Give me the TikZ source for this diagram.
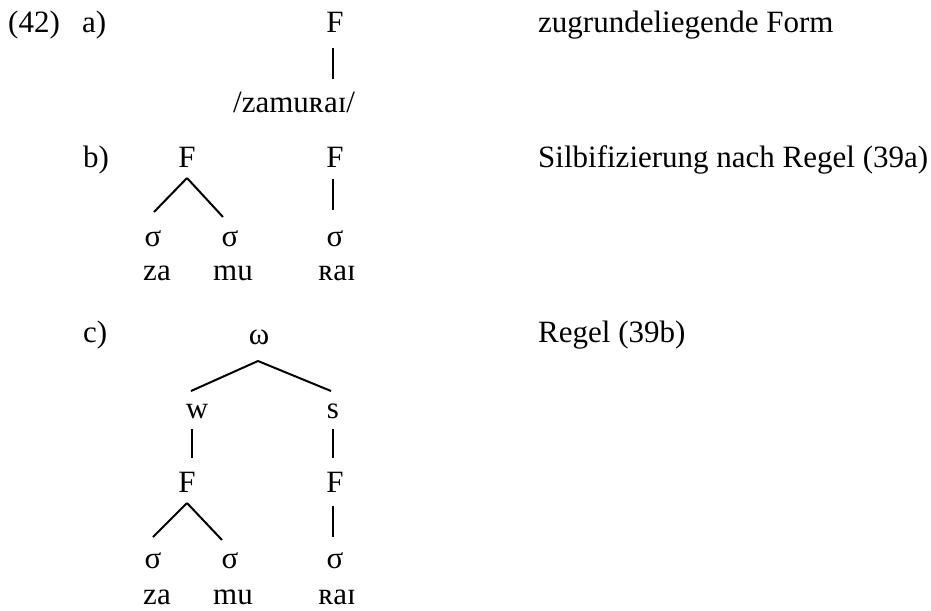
\documentclass[tikz,border=0pt]{standalone}
\usepackage{fontspec}
\setmainfont{Liberation Serif}
\begin{document}
\begin{tikzpicture}[x=1pt,y=-1pt,
  txt/.style={anchor=base,inner sep=0pt,font=\fontsize{31}{37}\selectfont},
  txtl/.style={txt,anchor=base west},
  branch/.style={line width=2pt}]
\useasboundingbox (0,0) rectangle (931,610);

% labels and comments
\node[txtl] (num) at (8,33) {(42)};
\node[txtl] (la) at (82,33) {a)};
\node[txtl] (lb) at (83,167) {b)};
\node[txtl] (lc) at (83,342) {c)};
\node[txtl] (da) at (538,33) {zugrundeliegende Form};
\node[txtl] (db) at (538,167) {Silbifizierung nach Regel (39a)};
\node[txtl] (dc) at (538,342) {Regel (39b)};

% (a) underlying form
\node[txt] (Fa) at (335,33) {F};
\node[txtl] (und) at (233,112) {/zamuʀaɪ/};
\draw[branch] ([xshift=-2pt,yshift=-15pt]Fa.base) -- ([xshift=100pt,yshift=33pt]und.base west);

% (b) syllabification
\node[txt] (Fb1) at (187,167) {F};
\node[txt] (Fb2) at (335,167) {F};
\node[txt] (sb1) at (153,246) {σ};
\node[txt] (sb2) at (230,246) {σ};
\node[txt] (sb3) at (335,246) {σ};
\node[txt] (tb1) at (157,280) {za};
\node[txt] (tb2) at (233,280) {mu};
\node[txt] (tb3) at (337,280) {ʀaɪ};
\draw[branch] ([yshift=-11pt]Fb1.base) -- ([xshift=1pt,yshift=34pt]sb1.base);
\draw[branch] ([yshift=-11pt]Fb1.base) -- ([xshift=-7pt,yshift=29pt]sb2.base);
\draw[branch] ([xshift=-2pt,yshift=-12pt]Fb2.base) -- ([xshift=-2pt,yshift=36pt]sb3.base);

% (c) prosodic word
\node[txt] (om) at (259,344) {ω};
\node[txt] (w) at (197,418) {w};
\node[txt] (s) at (333,418) {s};
\node[txt] (Fc1) at (187,492) {F};
\node[txt] (Fc2) at (335,492) {F};
\node[txt] (sc1) at (153,568) {σ};
\node[txt] (sc2) at (230,568) {σ};
\node[txt] (sc3) at (335,568) {σ};
\node[txt] (tc1) at (157,604) {za};
\node[txt] (tc2) at (233,604) {mu};
\node[txt] (tc3) at (337,604) {ʀaɪ};
\draw[branch] ([xshift=-1pt,yshift=-17pt]om.base) -- ([xshift=-6pt,yshift=27pt]w.base);
\draw[branch] ([xshift=-1pt,yshift=-17pt]om.base) -- ([xshift=-2pt,yshift=27pt]s.base);
\draw[branch] ([xshift=-5pt,yshift=-11pt]w.base) -- ([xshift=5pt,yshift=34pt]Fc1.base);
\draw[branch] ([yshift=-11pt]s.base) -- ([xshift=-2pt,yshift=34pt]Fc2.base);
\draw[branch] ([yshift=-11pt]Fc1.base) -- ([yshift=31pt]sc1.base);
\draw[branch] ([yshift=-11pt]Fc1.base) -- ([xshift=-8pt,yshift=28pt]sc2.base);
\draw[branch] ([xshift=-2pt,yshift=-14pt]Fc2.base) -- ([xshift=-2pt,yshift=31pt]sc3.base);
\end{tikzpicture}
\end{document}
